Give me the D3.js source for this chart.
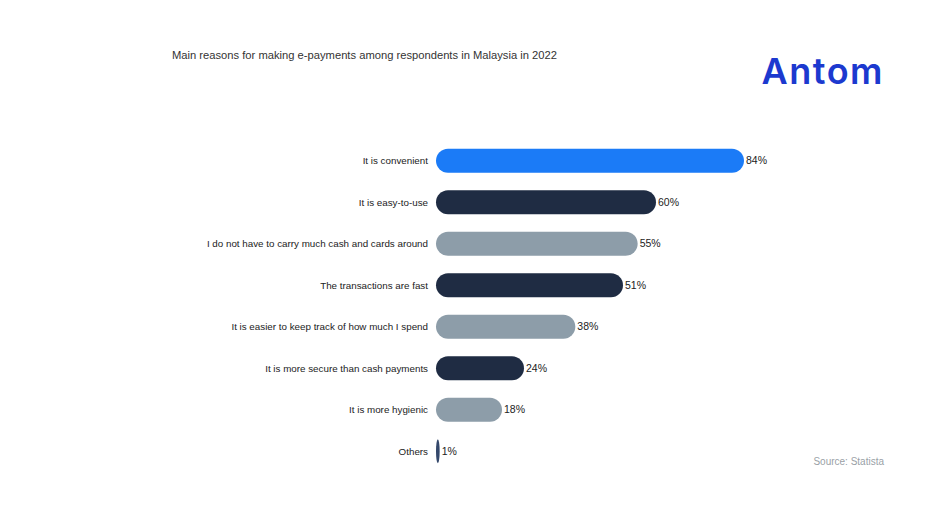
<!DOCTYPE html>
<html><head><meta charset="utf-8">
<script src="https://cdn.jsdelivr.net/npm/d3@7"></script>
<style>body{margin:0;background:#fff;}svg{display:block;font-family:"Liberation Sans",Arial,sans-serif;}</style>
</head><body>
<svg id="c" width="936" height="526"></svg>
<script>
const categories = ["It is convenient","It is easy-to-use","I do not have to carry much cash and cards around","The transactions are fast","It is easier to keep track of how much I spend","It is more secure than cash payments","It is more hygienic","Others"];
const values = [84,60,55,51,38,24,18,1];
const barColors = ["#1b7bf7","#1f2c43","#8d9da9","#1f2c43","#8d9da9","#1f2c43","#8d9da9","#34486b"];

const svg = d3.select("#c");
const x = d3.scaleLinear().domain([0,84]).range([436,744]);
const y = d3.scaleBand().domain(categories).range([140,472]).paddingInner(0.42).paddingOuter(0.21);

svg.append("text").attr("x",172).attr("y",59).attr("font-size",11.2).attr("fill","#333").text("Main reasons for making e-payments among respondents in Malaysia in 2022");

svg.append("text").attr("x",884).attr("y",84).attr("text-anchor","end").attr("font-size",36).attr("font-weight","600").attr("font-family","Inter, 'Liberation Sans', sans-serif").attr("fill","#1c39cf").attr("letter-spacing","1.5").text("Antom");

const g = svg.append("g");
const bh = y.bandwidth();
g.selectAll("rect").data(values).join("rect")
  .attr("x",x(0)).attr("y",(d,i)=>y(categories[i]))
  .attr("width",d=>x(d)-x(0)).attr("height",bh)
  .attr("rx",d=>Math.min(bh/2,(x(d)-x(0))/2)).attr("ry",bh/2)
  .attr("fill",(d,i)=>barColors[i]);

g.selectAll("text.cat").data(categories).join("text").attr("class","cat")
  .attr("x",428).attr("y",d=>y(d)+bh/2).attr("dy","0.35em")
  .attr("text-anchor","end").attr("font-size",9.8).attr("fill","#222").text(d=>d);

g.selectAll("text.val").data(values).join("text").attr("class","val")
  .attr("x",d=>x(d)+2).attr("y",(d,i)=>y(categories[i])+bh/2).attr("dy","0.35em")
  .attr("font-size",10.5).attr("fill","#222").text(d=>d+"%");

svg.append("text").attr("x",884).attr("y",465).attr("text-anchor","end").attr("font-size",10).attr("fill","#9a9fa6").text("Source: Statista");
</script>
</body></html>
